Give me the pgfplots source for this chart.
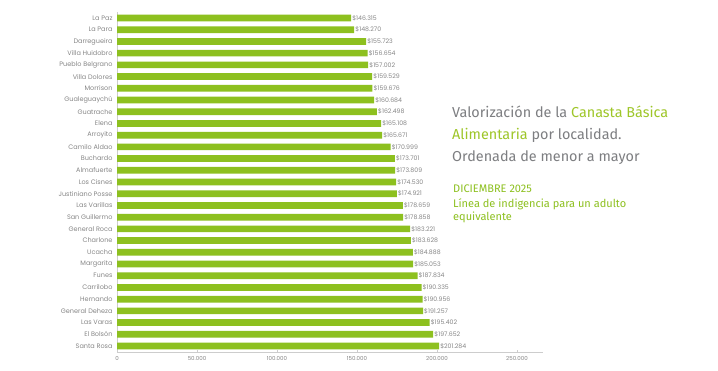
\documentclass[border=0pt]{standalone}
\usepackage{fontspec}
\setmainfont{Poppins}
\newfontfamily\titlefont{Fira Sans}
\usepackage{pgfplots}
\usepackage{pgfplotstable}
\pgfplotsset{compat=1.18}
\definecolor{bargreen}{RGB}{141,192,31}
\definecolor{titlegreen}{RGB}{158,198,40}
\definecolor{titlegray}{RGB}{125,126,129}
\definecolor{labgray}{RGB}{135,135,135}
\definecolor{axgray}{RGB}{205,205,205}
\pgfplotstableread[col sep=comma]{
idx,name,value
0,La Paz,146315
1,La Para,148270
2,Darregueira,155723
3,Villa Huidobro,156654
4,Pueblo Belgrano,157002
5,Villa Dolores,159529
6,Morrison,159676
7,Gualeguaychú,160684
8,Guatrache,162498
9,Elena,165108
10,Arroyito,165671
11,Camilo Aldao,170999
12,Buchardo,173701
13,Almafuerte,173809
14,Los Cisnes,174530
15,Justiniano Posse,174921
16,Las Varillas,178659
17,San Guillermo,178858
18,General Roca,183221
19,Charlone,183628
20,Ucacha,184888
21,Margarita,185053
22,Funes,187834
23,Carrilobo,190335
24,Hernando,190956
25,General Deheza,191257
26,Las Varas,195402
27,El Bolsón,197652
28,Santa Rosa,201284
}\data
\begin{document}
\begin{tikzpicture}[x=1pt,y=1pt]
\useasboundingbox[fill=white] (0,0) rectangle (718,371);
\begin{axis}[
  at={(117pt,19pt)}, anchor=south west,
  scale only axis, width=426pt, height=339.5pt,
  xbar, bar width=6.7pt,
  xmin=0, xmax=266250,
  ymin=-0.47, ymax=28.51, y dir=reverse,
  ytick=data, yticklabels from table={\data}{name},
  xtick={0,50000,100000,150000,200000,250000},
  axis x line*=bottom, axis y line*=left,
  axis line style={axgray, line width=0.6pt},
  tick style={axgray, line width=0.5pt},
  xtick style={draw=axgray}, major tick length=2pt,
  ytick style={draw=none},
  x tick label style={font=\fontsize{5.5}{6}\selectfont, text=labgray, yshift=-1pt},
  y tick label style={font=\fontsize{6.5}{7}\selectfont, text=labgray, xshift=1pt},
  /pgf/number format/.cd, fixed, precision=0, 1000 sep={.}, assume math mode=true,
  /pgfplots/.cd,
  scaled x ticks=false,
  point meta=x,
  nodes near coords={\$\pgfmathprintnumber[fixed,precision=0,1000 sep={.},assume math mode=true]{\pgfplotspointmeta}},
  nodes near coords style={font=\fontsize{6.2}{7}\selectfont, text=labgray, anchor=west, inner sep=1pt, xshift=0pt},
]
\addplot[fill=bargreen, draw=none] table[x=value, y=idx] {\data};
\end{axis}
\node[anchor=base west, inner sep=0, font=\titlefont\fontsize{14.4}{18}\selectfont, text=titlegray] at (452,253) {Valorización de la \textcolor{titlegreen}{Canasta Básica}};
\node[anchor=base west, inner sep=0, font=\titlefont\fontsize{14.4}{18}\selectfont, text=titlegray] at (452,231) {\textcolor{titlegreen}{Alimentaria} por localidad.};
\node[anchor=base west, inner sep=0, font=\titlefont\fontsize{14.4}{18}\selectfont, text=titlegray] at (452,209) {Ordenada de menor a mayor};
\node[anchor=base west, inner sep=0, font=\titlefont\fontsize{11}{12}\selectfont, text=bargreen] at (453,178) {DICIEMBRE 2025};
\node[anchor=base west, inner sep=0, font=\titlefont\fontsize{11}{12}\selectfont, text=bargreen] at (453,163.5) {Línea de indigencia para un adulto};
\node[anchor=base west, inner sep=0, font=\titlefont\fontsize{11}{12}\selectfont, text=bargreen] at (453,150) {equivalente};
\end{tikzpicture}
\end{document}
